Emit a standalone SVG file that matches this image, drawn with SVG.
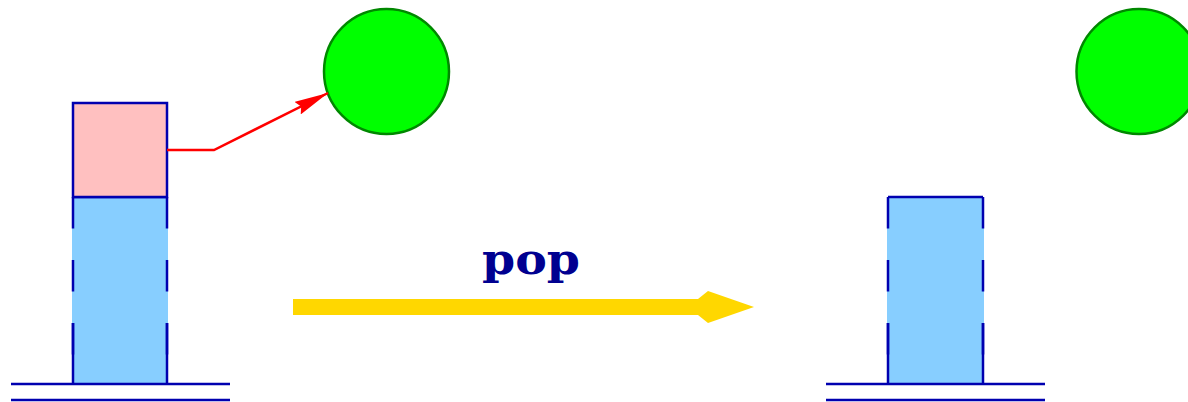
<svg xmlns="http://www.w3.org/2000/svg" width="1188" height="402" viewBox="0 0 1188 402">
<style>
.ln{stroke:#0000B0;stroke-width:2.5;fill:none}
.dash{stroke:#0000B0;stroke-width:2.5;stroke-dasharray:31.5 31.5;fill:none}
.cell{fill:#87CEFF;stroke:none}
.top{fill:#FFC0C0;stroke:#0000B0;stroke-width:2.5}
.ball{fill:#00FF00;stroke:#008800;stroke-width:2.5}
.lbl{font-family:"DejaVu Serif",serif;font-weight:bold;font-size:42px;fill:#000090}
</style>
<defs>
<marker id="ah" markerWidth="34" markerHeight="14" refX="34" refY="7" orient="auto" markerUnits="userSpaceOnUse">
<path d="M0,0 L34,7 L0,14 L4,7 Z" fill="#FF0000"/>
</marker>
</defs>
<g id="stack-left">
<rect class="cell" x="72" y="197" width="96" height="187"/>
<line class="ln" x1="73" y1="197" x2="167" y2="197"/>
<line class="dash" x1="73" y1="197" x2="73" y2="384"/>
<line class="dash" x1="167" y1="197" x2="167" y2="384"/>
<line class="ln" x1="73" y1="323" x2="73" y2="384"/>
<line class="ln" x1="167" y1="323" x2="167" y2="384"/>
<line class="ln" x1="11" y1="384" x2="230" y2="384"/>
<line class="ln" x1="11" y1="400" x2="230" y2="400"/>
</g>
<g id="top-cell">
<rect class="top" x="73" y="103" width="94" height="94"/>
</g>
<g id="ball-left">
<circle class="ball" cx="386.5" cy="71.5" r="62.5"/>
</g>
<g id="stack-right">
<rect class="cell" x="887" y="197" width="97" height="187"/>
<line class="ln" x1="888" y1="197" x2="983" y2="197"/>
<line class="dash" x1="888" y1="197" x2="888" y2="384"/>
<line class="dash" x1="983" y1="197" x2="983" y2="384"/>
<line class="ln" x1="888" y1="323" x2="888" y2="384"/>
<line class="ln" x1="983" y1="323" x2="983" y2="384"/>
<line class="ln" x1="826" y1="384" x2="1045" y2="384"/>
<line class="ln" x1="826" y1="400" x2="1045" y2="400"/>
</g>
<g id="ball-right">
<circle class="ball" cx="1139" cy="71.5" r="62.5"/>
</g>
<g id="connectors">
<polyline points="167,150 214,150 328,93" fill="none" stroke="#FF0000" stroke-width="2.5" marker-end="url(#ah)"/>
<polygon points="293,299 698,299 708,291 754,307 708,323 698,315 293,315" fill="#FFD700"/>
<text class="lbl" x="531" y="274" text-anchor="middle" textLength="98" lengthAdjust="spacingAndGlyphs">pop</text>
</g>
</svg>
